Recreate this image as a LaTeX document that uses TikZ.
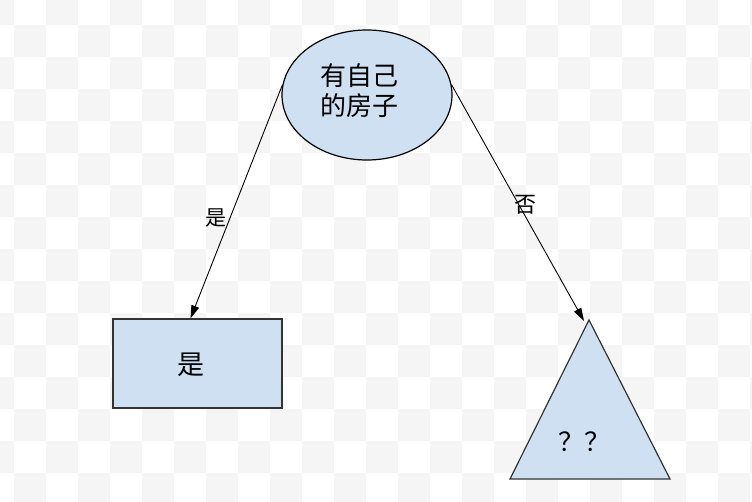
\documentclass[tikz,border=0pt]{standalone}
\usepackage{fontspec}
\setmainfont{Noto Sans CJK SC}
\usetikzlibrary{shapes.geometric,arrows.meta}
\definecolor{boxfill}{HTML}{CEE0F2}
\definecolor{checker}{HTML}{F5F5F5}
\definecolor{edge}{HTML}{333333}
\tikzset{
  shapebox/.style={draw=edge,fill=boxfill,line width=1.2pt,inner sep=0pt},
  conn/.style={draw=black,line width=0.9pt,-{Triangle[length=13pt,width=8pt]}},
  lbl/.style={font=\fontsize{21}{25}\selectfont,inner sep=0pt},
  txt/.style={font=\fontsize{26}{30}\selectfont,align=center,inner sep=0pt}
}
\begin{document}
\begin{tikzpicture}[x=1pt,y=-1pt]
\useasboundingbox (0,0) rectangle (752,502);
\begin{scope}
\clip (0,0) rectangle (752,502);
\fill[white] (0,0) rectangle (752,502);
\foreach \a in {-1,...,12} \foreach \b in {-1,...,8} {
  \fill[checker] ({14+64*\a},{25+64*\b}) rectangle +(32,32);
  \fill[checker] ({46+64*\a},{57+64*\b}) rectangle +(32,32);
}
\end{scope}
% root ellipse
\node[ellipse,shapebox,draw=black,minimum width=170pt,minimum height=130pt] (root) at (367,95) {};
\node[txt] (roottext) at (359,91) {有自己\\的房子};
% leaf rectangle
\node[rectangle,shapebox,minimum width=169pt,minimum height=89pt] (leaf) at (197.5,363.5) {};
\node[txt,font=\fontsize{27}{30}\selectfont] (leaftext) at (191,365) {是};
% triangle
\coordinate (apex) at (589,320);
\coordinate (bl) at (510,479);
\coordinate (br) at (670,479);
\draw[shapebox] (apex) -- (br) -- (bl) -- cycle;
\node[txt] (qq) at (584,442) {？？};
% connectors
\draw[conn] (root.173) -- ([xshift=-7pt]leaf.north);
\draw[conn] (root.7) -- ([xshift=-5pt,yshift=-1pt]apex);
\node[lbl] (yes) at (216,218) {是};
\node[lbl,font=\fontsize{22}{25}\selectfont] (no) at (525,205) {否};
\end{tikzpicture}
\end{document}
